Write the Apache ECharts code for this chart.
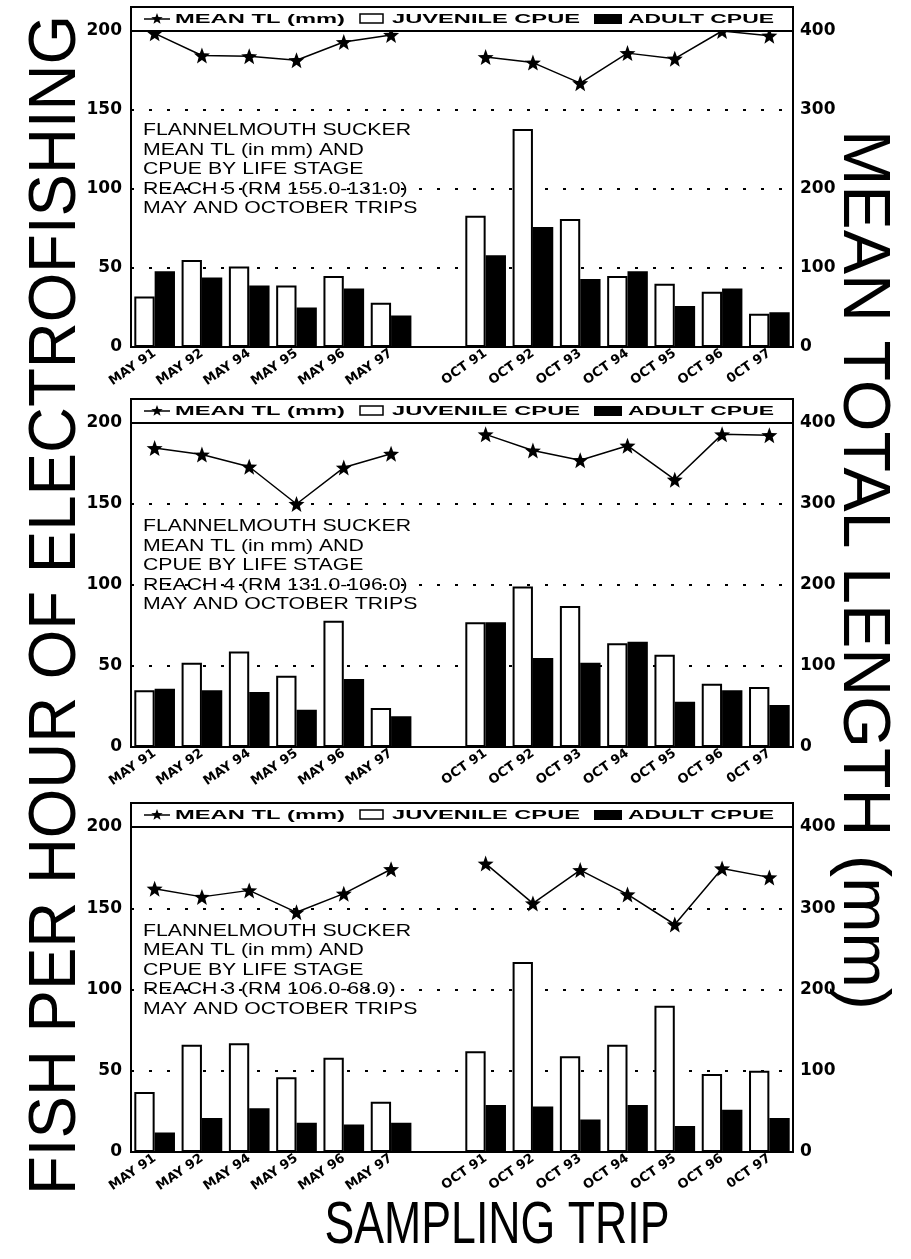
<!DOCTYPE html>
<html>
<head>
<meta charset="utf-8">
<title>Flannelmouth sucker CPUE and mean TL</title>
<script src="https://cdn.jsdelivr.net/npm/echarts@6/dist/echarts.min.js"></script>
<style>
html, body { margin: 0; padding: 0; background: #fff; }
#chart { width: 911px; height: 1259px; }
</style>
</head>
<body>
<div id="chart"></div>
<script>
// sampling trips (empty slot separates May and October trips)
var categories = ['MAY 91', 'MAY 92', 'MAY 94', 'MAY 95', 'MAY 96', 'MAY 97', '',
	'OCT 91', 'OCT 92', 'OCT 93', 'OCT 94', 'OCT 95', 'OCT 96', '0CT 97'];
var cpueTicks = [0, 50, 100, 150, 200];
var lengthTicks = [0, 100, 200, 300, 400];

// reach 5
var juvenile5 = [32, 55, 51, 39, 45, 28, null, 83, 138, 81, 45, 40, 35, 21];
var adult5 = [48, 44, 39, 25, 37, 20, null, 58, 76, 43, 48, 26, 37, 22];
var meanTL5 = [397, 369, 368, 363, 386, 395, null, 367, 360, 334, 372, 365, 400, 394];
// reach 4
var juvenile4 = [35, 52, 59, 44, 78, 24, null, 77, 99, 87, 64, 57, 39, 37];
var adult4 = [36, 35, 34, 23, 42, 19, null, 77, 55, 52, 65, 28, 35, 26];
var meanTL4 = [369, 361, 346, 300, 345, 362, null, 386, 366, 354, 372, 330, 386, 385];
// reach 3
var juvenile3 = [37, 66, 67, 46, 58, 31, null, 62, 117, 59, 66, 90, 48, 50];
var adult3 = [12, 21, 27, 18, 17, 18, null, 29, 28, 20, 29, 16, 26, 21];
var meanTL3 = [324, 314, 322, 295, 318, 348, null, 355, 306, 347, 317, 280, 349, 338];

var reachLabels = ['REACH 5 (RM 155.0-131.0)', 'REACH 4 (RM 131.0-106.0)', 'REACH 3 (RM 106.0-68.0)'];
var panels = [
	{ juvenile: juvenile5, adult: adult5, meanTL: meanTL5 },
	{ juvenile: juvenile4, adult: adult4, meanTL: meanTL4 },
	{ juvenile: juvenile3, adult: adult3, meanTL: meanTL3 }
];

var gridLeft = 131, gridRight = 793;
var gridTops = [31, 423, 827];
var gridHeights = [316, 324, 325];

var measureCtx = document.createElement('canvas').getContext('2d');
function fit(text, font, width) {
	measureCtx.font = font;
	return width / measureCtx.measureText(text).width;
}

function starPoints(cx, cy, r) {
	var pts = [];
	for (var k = 0; k < 10; k++) {
		var a = -Math.PI / 2 + k * Math.PI / 5;
		var rr = k % 2 ? r * 0.42 : r;
		pts.push([cx + rr * Math.cos(a), cy + rr * Math.sin(a)]);
	}
	return pts;
}
var starSymbol = 'path://M' + starPoints(10, 10, 10).map(function (p) {
	return p[0].toFixed(2) + ',' + p[1].toFixed(2);
}).join(' L') + ' Z';

var labelFont = '"DejaVu Sans"';
var grids = [], xAxes = [], yAxes = [], series = [], graphics = [];

panels.forEach(function (p, i) {
	var top = gridTops[i];
	grids.push({
		left: gridLeft, width: gridRight - gridLeft, top: top, height: gridHeights[i],
		show: true, borderColor: '#000', borderWidth: 2, backgroundColor: 'transparent'
	});
	xAxes.push({
		gridIndex: i, type: 'category', data: categories,
		axisLine: { lineStyle: { color: '#000', width: 2 } },
		axisTick: { show: false },
		axisLabel: {
			interval: 0, rotate: 35, margin: 5, color: '#000',
			fontFamily: labelFont, fontWeight: 'bold', fontSize: 13
		}
	});
	yAxes.push({
		gridIndex: i, type: 'value', position: 'left',
		min: cpueTicks[0], max: cpueTicks[cpueTicks.length - 1], interval: cpueTicks[1] - cpueTicks[0],
		axisLine: { show: false }, axisTick: { show: false },
		axisLabel: { color: '#000', fontFamily: labelFont, fontWeight: 'bold', fontSize: 17, margin: 9 },
		splitLine: { lineStyle: { color: '#000', width: 2, type: [3, 15] } }
	});
	yAxes.push({
		gridIndex: i, type: 'value', position: 'right',
		min: lengthTicks[0], max: lengthTicks[lengthTicks.length - 1], interval: lengthTicks[1] - lengthTicks[0],
		axisLine: { show: false }, axisTick: { show: false },
		axisLabel: { color: '#000', fontFamily: labelFont, fontWeight: 'bold', fontSize: 17, margin: 7 },
		splitLine: { show: false }
	});
	series.push({
		name: 'JUVENILE CPUE', type: 'bar', xAxisIndex: i, yAxisIndex: 2 * i,
		data: p.juvenile, barGap: '0%', barCategoryGap: '14%',
		itemStyle: { color: '#fff', borderColor: '#000', borderWidth: 2 }
	});
	series.push({
		name: 'ADULT CPUE', type: 'bar', xAxisIndex: i, yAxisIndex: 2 * i,
		data: p.adult, barGap: '0%', barCategoryGap: '14%',
		itemStyle: { color: '#000', borderColor: '#000', borderWidth: 2 }
	});
	series.push({
		name: 'MEAN TL (mm)', type: 'line', xAxisIndex: i, yAxisIndex: 2 * i + 1,
		data: p.meanTL, connectNulls: false, z: 5,
		symbol: starSymbol, symbolSize: 16,
		lineStyle: { color: '#000', width: 1.5 },
		itemStyle: { color: '#000' }
	});

	// legend box across the top of the panel
	var ly = top - 12;
	var legendFont = 'bold 12px "Liberation Sans"';
	graphics.push({ type: 'rect', shape: { x: gridLeft, y: top - 24, width: gridRight - gridLeft, height: 24 },
		style: { fill: '#fff', stroke: '#000', lineWidth: 2 }, z: 10 });
	graphics.push({ type: 'line', shape: { x1: 144, y1: ly, x2: 170, y2: ly },
		style: { stroke: '#000', lineWidth: 1.5 }, z: 11 });
	graphics.push({ type: 'polygon', shape: { points: starPoints(157, ly, 6) }, style: { fill: '#000' }, z: 11 });
	graphics.push({ type: 'rect', shape: { x: 360, y: ly - 5, width: 23, height: 9 },
		style: { fill: '#fff', stroke: '#000', lineWidth: 1.5 }, z: 11 });
	graphics.push({ type: 'rect', shape: { x: 594, y: ly - 5, width: 28, height: 10 },
		style: { fill: '#000' }, z: 11 });
	[['MEAN TL (mm)', 175, 170], ['JUVENILE CPUE', 392, 188], ['ADULT CPUE', 628, 146]].forEach(function (t) {
		graphics.push({ type: 'text', x: t[1], y: ly + 1, scaleX: fit(t[0], legendFont, t[2]), z: 11,
			style: { text: t[0], fill: '#000', font: legendFont, textAlign: 'left', textVerticalAlign: 'middle' } });
	});

	// panel annotation
	var noteFont = '17px "Liberation Sans"';
	var noteScale = fit('FLANNELMOUTH SUCKER', noteFont, 268);
	var notes = ['FLANNELMOUTH SUCKER', 'MEAN TL (in mm) AND', 'CPUE BY LIFE STAGE', reachLabels[i], 'MAY AND OCTOBER TRIPS'];
	var mid = top + gridHeights[i] / 2;
	notes.forEach(function (s, k) {
		graphics.push({ type: 'text', x: 143, y: mid + (k - 3) * 19.5, scaleX: noteScale, z: 3,
			style: { text: s, fill: '#000', font: noteFont, textAlign: 'left', textVerticalAlign: 'middle' } });
	});
});

// big axis titles
var titleFont = '66px "Liberation Sans"';
graphics.push({ type: 'text', x: 57, y: 605, rotation: Math.PI / 2,
	scaleX: fit('FISH PER HOUR OF ELECTROFISHING', titleFont, 1180),
	style: { text: 'FISH PER HOUR OF ELECTROFISHING', fill: '#000', font: titleFont, textAlign: 'center', textVerticalAlign: 'middle' } });
graphics.push({ type: 'text', x: 862, y: 570, rotation: -Math.PI / 2,
	scaleX: fit('MEAN TOTAL LENGTH (mm)', titleFont, 880),
	style: { text: 'MEAN TOTAL LENGTH (mm)', fill: '#000', font: titleFont, textAlign: 'center', textVerticalAlign: 'middle' } });
var bottomFont = '60px "Liberation Sans"';
graphics.push({ type: 'text', x: 497, y: 1226,
	scaleX: fit('SAMPLING TRIP', bottomFont, 345),
	style: { text: 'SAMPLING TRIP', fill: '#000', font: bottomFont, textAlign: 'center', textVerticalAlign: 'middle' } });

var myChart = echarts.init(document.getElementById('chart'), null, { renderer: 'canvas' });
var option = {
	animation: false,
	backgroundColor: '#fff',
	grid: grids,
	xAxis: xAxes,
	yAxis: yAxes,
	series: series,
	graphic: graphics
};
myChart.setOption(option);
</script>
</body>
</html>
